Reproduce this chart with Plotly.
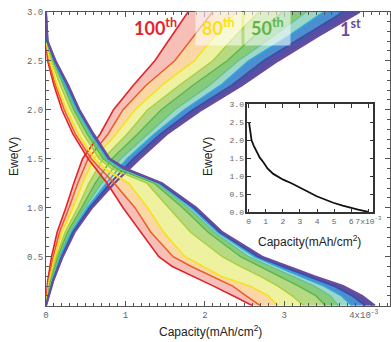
import plotly.graph_objects as go

# ---------------- data (capacity in 1e-3 mAh/cm2, voltage in V) ----------------
cycles = [100, 90, 80, 65, 50, 35, 20, 10, 1]

# discharge branch: shared voltage grid, capacity per key cycle
discharge_v = [3.0, 2.7, 2.5, 2.25, 2.0, 1.75, 1.5, 1.4, 1.25, 1.0, 0.75, 0.5, 0.4, 0.3, 0.2, 0.1, 0.0]
dis_100 = [0, 0.00, 0.02, 0.10, 0.20, 0.34, 0.53, 0.63, 0.77, 0.97, 1.20, 1.42, 1.59, 1.86, 2.11, 2.36, 2.60]
dis_90 = [0, 0.00, 0.03, 0.12, 0.23, 0.37, 0.57, 0.68, 0.86, 1.12, 1.32, 1.60, 1.83, 2.10, 2.35, 2.52, 2.70]
dis_80 = [0, 0.00, 0.05, 0.14, 0.26, 0.41, 0.61, 0.74, 1.04, 1.28, 1.48, 1.75, 1.98, 2.20, 2.57, 2.80, 2.92]
dis_65 = [0, 0.01, 0.07, 0.18, 0.31, 0.47, 0.67, 0.82, 1.27, 1.55, 1.82, 2.22, 2.45, 2.70, 2.92, 3.10, 3.25]
dis_50 = [0, 0.01, 0.09, 0.22, 0.35, 0.52, 0.72, 0.89, 1.36, 1.72, 2.04, 2.45, 2.70, 2.95, 3.18, 3.40, 3.52]
dis_35 = [0, 0.01, 0.10, 0.24, 0.37, 0.55, 0.75, 0.93, 1.40, 1.79, 2.12, 2.55, 2.82, 3.10, 3.38, 3.58, 3.68]
dis_20 = [0, 0.01, 0.10, 0.25, 0.39, 0.57, 0.77, 0.96, 1.42, 1.83, 2.16, 2.62, 2.90, 3.20, 3.50, 3.72, 3.85]
dis_10 = [0, 0.02, 0.11, 0.27, 0.41, 0.59, 0.79, 0.98, 1.44, 1.86, 2.19, 2.67, 2.98, 3.30, 3.63, 3.86, 4.02]
dis_1 = [0, 0.02, 0.12, 0.28, 0.42, 0.60, 0.80, 1.00, 1.46, 1.89, 2.22, 2.72, 3.05, 3.38, 3.74, 3.98, 4.14]

# charge branch
charge_v = [0.0, 0.25, 0.5, 0.75, 1.0, 1.25, 1.5, 1.75, 2.0, 2.25, 2.5, 2.75, 3.0]
chg_100 = [0, 0.020, 0.07, 0.14, 0.25, 0.35, 0.46, 0.68, 0.85, 1.10, 1.37, 1.58, 1.79]
chg_90 = [0, 0.030, 0.09, 0.17, 0.29, 0.40, 0.53, 0.78, 0.97, 1.26, 1.62, 1.86, 2.10]
chg_80 = [0, 0.040, 0.11, 0.20, 0.34, 0.46, 0.60, 0.88, 1.12, 1.46, 1.87, 2.12, 2.40]
chg_65 = [0, 0.050, 0.13, 0.24, 0.40, 0.54, 0.72, 1.02, 1.28, 1.68, 2.10, 2.38, 2.68]
chg_50 = [0, 0.060, 0.15, 0.27, 0.45, 0.62, 0.83, 1.15, 1.45, 1.85, 2.28, 2.62, 2.98]
chg_35 = [0, 0.070, 0.17, 0.30, 0.49, 0.70, 0.94, 1.28, 1.62, 2.06, 2.42, 2.86, 3.28]
chg_20 = [0, 0.080, 0.18, 0.32, 0.52, 0.76, 1.02, 1.36, 1.74, 2.20, 2.55, 3.05, 3.50]
chg_10 = [0, 0.085, 0.20, 0.34, 0.55, 0.81, 1.10, 1.44, 1.85, 2.34, 2.74, 3.25, 3.75]
chg_1 = [0, 0.090, 0.21, 0.36, 0.58, 0.86, 1.18, 1.52, 1.96, 2.47, 2.92, 3.42, 3.95]

# inset (single discharge curve)
inset_cap = [0.02, 0.05, 0.10, 0.17, 0.30, 0.47, 0.65, 0.85, 1.10, 1.44, 2.02, 2.50, 3.00,
             3.50, 3.98, 4.50, 4.95, 5.50, 5.92, 6.40, 6.80, 7.00]
inset_v = [2.50, 2.38, 2.20, 2.00, 1.85, 1.68, 1.52, 1.40, 1.22, 1.07, 0.91, 0.81, 0.70,
           0.57, 0.45, 0.35, 0.27, 0.19, 0.13, 0.08, 0.04, 0.02]

main_xticks = [0, 1, 2, 3, 4]
main_xlabels = ['0', '1', '2', '3', '4x10<sup>-3</sup>']
main_yticks = [0.5, 1.0, 1.5, 2.0, 2.5, 3.0]
main_ylabels = ['0.5', '1.0', '1.5', '2.0', '2.5', '3.0']
inset_xticks = [0, 1, 2, 3, 4, 5, 6, 7]
inset_xlabels = ['0', '1', '2', '3', '4', '5', '6', '7x10<sup>-3</sup>']
inset_yticks = [0.0, 0.5, 1.0, 1.5, 2.0, 2.5, 3.0]
inset_ylabels = ['0.0', '0.5', '1.0', '1.5', '2.0', '2.5', '3.0']

# ---------------- styles ----------------
line_colors = ['#e4232a', '#ee5a2a', '#f7e11a', '#a9cf3a', '#5db646', '#66c28a',
               '#2aaae2', '#3d4ea6', '#6a4c9c']
fill_colors = ['#f6c0b8', '#fbd7a6', '#eef1a0', '#b6da84', '#86cb7c', '#9ed6c8',
               '#4b8fd0', '#5650a4']
line_widths = [1.6, 1.5, 1.6, 1.4, 1.4, 1.4, 1.4, 1.8, 2.2]

dis_sets = [dis_100, dis_90, dis_80, dis_65, dis_50, dis_35, dis_20, dis_10, dis_1]
chg_sets = [chg_100, chg_90, chg_80, chg_65, chg_50, chg_35, chg_20, chg_10, chg_1]

fig = go.Figure()

def add_band(caps, volts):
    for i in range(len(caps) - 1):
        a, b = caps[i], caps[i + 1]
        fig.add_trace(go.Scatter(x=a + b[::-1], y=volts + volts[::-1], mode='lines',
                                 fill='toself', fillcolor=fill_colors[i],
                                 line=dict(width=0), hoverinfo='skip', showlegend=False))

add_band(chg_sets, charge_v)
add_band(dis_sets, discharge_v)

for i, cyc in enumerate(cycles):
    fig.add_trace(go.Scatter(x=chg_sets[i], y=charge_v, mode='lines',
                             line=dict(color=line_colors[i], width=line_widths[i]),
                             name=f'charge {cyc}', showlegend=False))
for i, cyc in enumerate(cycles):
    fig.add_trace(go.Scatter(x=dis_sets[i], y=discharge_v, mode='lines',
                             line=dict(color=line_colors[i], width=line_widths[i]),
                             name=f'discharge {cyc}', showlegend=False))

fig.add_trace(go.Scatter(x=inset_cap, y=inset_v, mode='lines', xaxis='x2', yaxis='y2',
                         line=dict(color='#111', width=1.8), showlegend=False))

tickfont = dict(family='Liberation Mono', size=9, color='#666')
axis_common = dict(showline=True, linecolor='#555', linewidth=1, mirror='allticks',
                   ticks='inside', tickcolor='#555', showgrid=False, zeroline=False,
                   tickfont=tickfont, tickmode='array', automargin=False, tickangle=0)

fig.update_layout(
    width=391, height=342, margin=dict(l=0, r=0, t=0, b=0, pad=0, autoexpand=False),
    paper_bgcolor='white', plot_bgcolor='white', showlegend=False,
    xaxis=dict(domain=[0.1176, 0.9974], range=[0, 4.33], tickvals=main_xticks,
               ticktext=main_xlabels, ticklen=5,
               minor=dict(tickmode='linear', tick0=0, dtick=0.1, ticks='inside',
                          ticklen=3, tickcolor='#555', showgrid=False),
               **axis_common),
    yaxis=dict(domain=[0.1061, 0.9658], range=[0, 3.0], tickvals=main_yticks,
               ticktext=main_ylabels, ticklen=5,
               minor=dict(tickmode='linear', tick0=0, dtick=0.1, ticks='inside',
                          ticklen=3, tickcolor='#555', showgrid=False),
               **axis_common),
    xaxis2=dict(domain=[0.6325, 0.9547], range=[-0.08, 7.29], anchor='y2',
                tickvals=inset_xticks, ticktext=inset_xlabels, ticklen=4,
                **{**axis_common, 'linecolor': '#333', 'linewidth': 1.5, 'tickcolor': '#333',
                   'tickfont': dict(family='Liberation Mono', size=8, color='#666')}),
    yaxis2=dict(domain=[0.3787, 0.6950], range=[0, 3.0], anchor='x2',
                tickvals=inset_yticks, ticktext=inset_ylabels, ticklen=4,
                **{**axis_common, 'linecolor': '#333', 'linewidth': 1.5, 'tickcolor': '#333',
                   'tickfont': dict(family='Liberation Mono', size=8, color='#666')}),
)

title_font = dict(family='Liberation Sans', size=12, color='#222')
label_font = dict(family='Lato', size=18)
annotations = [
    dict(text='Ewe(V)', x=14 / 391, y=1 - 157 / 342, textangle=-90, font=title_font),
    dict(text='Capacity(mAh/cm<sup>2</sup>)', x=210 / 391, y=1 - 331 / 342, font=title_font),
    dict(text='Ewe(V)', x=208 / 391, y=1 - 157 / 342, textangle=-90, font=title_font),
    dict(text='Capacity(mAh/cm<sup>2</sup>)', x=309 / 391, y=1 - 241 / 342, font=title_font),
    dict(text='<b>100<sup>th</sup></b>', x=155 / 391, y=1 - 27 / 342,
         font=dict(label_font, color='#e4232a')),
    dict(text='<b>80<sup>th</sup></b>', x=218 / 391, y=1 - 27 / 342,
         font=dict(label_font, color='#f7e11a'), bgcolor='rgba(255,255,255,0.55)', borderpad=6),
    dict(text='<b>50<sup>th</sup></b>', x=267 / 391, y=1 - 27 / 342,
         font=dict(label_font, color='#62b545'), bgcolor='rgba(255,255,255,0.55)', borderpad=6),
    dict(text='<b>1<sup>st</sup></b>', x=350 / 391, y=1 - 28 / 342,
         font=dict(label_font, color='#6a4c9c')),
]
for a in annotations:
    a.update(xref='paper', yref='paper', showarrow=False, xanchor='center', yanchor='middle')
fig.update_layout(annotations=annotations)

fig.write_html('out.html', config={'displayModeBar': False},
               post_script="document.body.style.margin='0';document.body.style.overflow='hidden';")
